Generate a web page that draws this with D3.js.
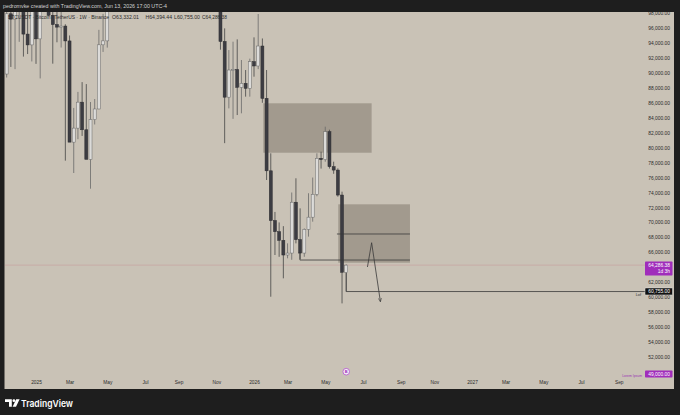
<!DOCTYPE html>
<html><head><meta charset="utf-8">
<script src="https://cdn.jsdelivr.net/npm/d3@7"></script>
<style>
html,body{margin:0;padding:0;background:#1e1e1e;}
svg{display:block;}
</style></head><body>
<svg id="c" width="680" height="415"></svg>
<script>
// ---- weekly BTCUSDT candles (Binance, 1W) ----
const weekStart = [
"2024-11-18","2024-11-25","2024-12-02","2024-12-09","2024-12-16","2024-12-23","2024-12-30",
"2025-01-06","2025-01-13","2025-01-20","2025-01-27","2025-02-03","2025-02-10","2025-02-17","2025-02-24",
"2025-03-03","2025-03-10","2025-03-17","2025-03-24","2025-03-31","2025-04-07","2025-04-14","2025-04-21",
"2025-04-28","2025-05-05",
"2025-11-10","2025-11-17","2025-11-24","2025-12-01","2025-12-08","2025-12-15","2025-12-22","2025-12-29",
"2026-01-05","2026-01-12","2026-01-19","2026-01-26","2026-02-02","2026-02-09","2026-02-16","2026-02-23",
"2026-03-02","2026-03-09","2026-03-16","2026-03-23","2026-03-30","2026-04-06","2026-04-13","2026-04-20",
"2026-04-27","2026-05-04","2026-05-11","2026-05-18","2026-05-25","2026-06-01","2026-06-08"];
const openP = [
89845,97900,97185,101100,104463,95186,93738,
98363,94545,101335,104714,97700,96462,96118,96258,
94270,80734,82610,86082,82389,78430,83760,85170,
93750,94277,
104700,94200,86750,90380,90450,88060,88600,87930,
91500,90920,93590,86590,76900,70250,68760,67600,
65640,65900,72700,67700,65900,69070,70700,73750,
78570,78400,82130,77450,77000,73660,63332.01];
const highP = [
99588,98871,104088,108135,108353,99963,99000,
102724,106422,109588,106457,102500,98826,99475,96500,
95000,85309,87453,88765,88500,86100,86500,95750,
97895,104145,
107500,95950,93050,94170,94480,91720,90380,91900,
94750,97870,94600,90380,79240,71400,70000,69500,
67200,74000,75900,71880,69200,73900,76000,79240,
79460,82800,82400,78120,77230,74110,64394.44];
const lowP = [
89376,90791,90500,94150,92175,92520,91530,
91203,89256,99550,97600,91231,94088,93388,78258,
81500,76606,81134,81565,81320,74508,83100,85144,
92800,93377,
93100,80600,85250,83850,84360,84590,86820,86820,
89490,90500,86000,75670,60060,65640,65400,62520,
65200,65000,67200,65100,65400,68100,70100,73500,
77200,78120,77200,76500,73440,59170,60755.00];
const closeP = [
97900,97185,101100,104463,95186,93738,98363,
94545,101335,104714,97700,96462,96118,96258,94270,
80734,82610,86082,82389,78430,83760,85170,93750,
94277,104100,
94200,86750,90380,90450,88060,88600,87930,91500,
90920,93590,86590,76900,70250,68760,67600,65640,
65900,72700,67700,65900,69070,70700,73750,78570,
78400,82130,77450,77000,73660,63332.01,64286.38];

// ---- axis ticks ----
const priceTicks = d3.range(52000, 98001, 2000);
const hiddenPriceTicks = [64000, 50000]; // covered by the price labels in the original
const timeTickDates = ["2025-01-06","2025-03-03","2025-05-05","2025-07-07","2025-09-01","2025-11-03",
"2026-01-05","2026-03-02","2026-05-04","2026-07-06","2026-09-07","2026-11-02",
"2027-01-04","2027-03-01","2027-05-03","2027-07-05","2027-09-06"];
const timeTickLabels = ["2025","Mar","May","Jul","Sep","Nov","2026","Mar","May","Jul","Sep","Nov","2027","Mar","May","Jul","Sep"];

// ---- drawings (time, price) ----
const zoneStart = ["2026-01-20T12:00Z","2026-05-25T16:00Z"];
const zoneEnd   = ["2026-07-20T10:00Z","2026-09-22T10:00Z"];
const zoneTop   = [85930, 72420];
const zoneBot   = [79320, 64610];
const midLine   = {t0:"2026-05-23T12:00Z", t1:"2026-09-22T10:00Z", p:68450};
const bracket1  = [["2026-03-22T16:00Z",65950],["2026-03-22T16:00Z",64970],["2026-09-22T10:00Z",64970]];
const lowRay    = [["2026-06-08T00:00Z",63230],["2026-06-08T00:00Z",60755],["2027-10-25T00:00Z",60755]];
const arrowPath = [["2026-07-13T10:00Z",64035],["2026-07-20T10:00Z",67285],["2026-08-04T02:00Z",59394]];
const lastPrice = 64286.38, lowPrice = 60755.00, alertPrice = 49000;

// ---- layout ----
const W = 680, H = 415;
const paneL = 5, paneR = 645, paneT = 12, paneB = 377;
const BG = "#c9c2b6";
const FONT = "Liberation Sans, Arial, sans-serif";

const svg = d3.select("#c");
svg.append("rect").attr("width",W).attr("height",H).attr("fill","#1e1e1e");
svg.append("rect").attr("x",4.5).attr("y",paneT).attr("width",674-4.5).attr("height",389-paneT).attr("fill",BG);

const x = d3.scaleTime()
  .domain([new Date(Date.UTC(2025,0,6)), new Date(Date.UTC(2026,0,5))])
  .range([36, 254]);
const y = d3.scaleLinear().domain([52000, 96000]).range([357, 28]);

svg.append("defs").append("clipPath").attr("id","pane")
  .append("rect").attr("x",paneL).attr("y",paneT).attr("width",paneR-paneL).attr("height",paneB-paneT);
svg.select("defs").append("marker").attr("id","arr").attr("viewBox","0 0 10 10")
  .attr("refX",9).attr("refY",5).attr("markerWidth",5).attr("markerHeight",5).attr("orient","auto")
  .append("path").attr("d","M0,1 L9,5 L0,9").attr("fill","none").attr("stroke","#3a3a3a").attr("stroke-width",1.4);

const pane = svg.append("g").attr("clip-path","url(#pane)");

// zones
const zones = zoneStart.map((s,i)=>({s:new Date(s), e:new Date(zoneEnd[i]), t:zoneTop[i], b:zoneBot[i]}));
pane.selectAll("rect.zone").data(zones).join("rect").attr("class","zone")
  .attr("x",d=>x(d.s)).attr("width",d=>x(d.e)-x(d.s))
  .attr("y",d=>y(d.t)).attr("height",d=>y(d.b)-y(d.t))
  .attr("fill","rgba(90,80,70,0.35)");

// last price line
pane.append("line").attr("x1",paneL).attr("x2",paneR).attr("y1",y(lastPrice)).attr("y2",y(lastPrice))
  .attr("stroke","rgba(190,110,125,0.45)").attr("stroke-width",0.6);

// candles
const candles = weekStart.map((w,i)=>({d:new Date(w), o:openP[i], h:highP[i], l:lowP[i], c:closeP[i]}));
const bw = 3;
const cg = pane.append("g");
cg.selectAll("line.wick").data(candles).join("line").attr("class","wick")
  .attr("x1",d=>x(d.d)).attr("x2",d=>x(d.d))
  .attr("y1",d=>y(d.h)).attr("y2",d=>y(d.l))
  .attr("stroke",d=>d.c>=d.o?"#6a6a6a":"#454545").attr("stroke-width",0.8);
cg.selectAll("rect.body").data(candles).join("rect").attr("class","body")
  .attr("x",d=>x(d.d)-bw/2).attr("width",bw)
  .attr("y",d=>y(Math.max(d.o,d.c)))
  .attr("height",d=>Math.max(0.8, Math.abs(y(d.o)-y(d.c))))
  .attr("fill",d=>d.c>=d.o?"#dcdbd9":"#3c3c42")
  .attr("stroke",d=>d.c>=d.o?"#6a6a6a":"#2c2c30").attr("stroke-width",0.5);

// drawing lines
const lineGen = d3.line().x(p=>x(new Date(p[0]))).y(p=>y(p[1]));
pane.append("line").attr("x1",x(new Date(midLine.t0))).attr("x2",x(new Date(midLine.t1)))
  .attr("y1",y(midLine.p)).attr("y2",y(midLine.p)).attr("stroke","#3a3a3a").attr("stroke-width",0.8);
pane.append("path").attr("d",lineGen(bracket1)).attr("fill","none").attr("stroke","#3a3a3a").attr("stroke-width",0.8);
pane.append("path").attr("d",lineGen(lowRay)).attr("fill","none").attr("stroke","#3a3a3a").attr("stroke-width",0.8);
pane.append("path").attr("d",lineGen(arrowPath)).attr("fill","none").attr("stroke","#3a3a3a").attr("stroke-width",0.8)
  .attr("marker-end","url(#arr)");
svg.append("text").attr("x",641).attr("y",y(lowPrice)+4.3).attr("text-anchor","end")
  .attr("font-family",FONT).attr("font-size",3.8).attr("fill","#333").text("Lof");

// legend text
const lg = svg.append("g").attr("font-family",FONT).attr("font-size",5).attr("fill","#2a2a2a");
const legendParts = [["BTCUSDT · Bitcoin / TetherUS · 1W · Binance",8,101],["O63,332.01",112,27],["H64,394.44",145.5,26.5],["L60,755.00",174,26],["C64,286.38",202,25]];
legendParts.forEach(p=>lg.append("text").attr("x",p[1]).attr("y",19).attr("textLength",p[2]).attr("lengthAdjust","spacingAndGlyphs").text(p[0]));

// price axis
const yAxis = svg.append("g").attr("transform","translate(670,0)")
  .call(d3.axisRight(y).tickValues(priceTicks.filter(v=>!hiddenPriceTicks.includes(v)))
    .tickFormat(d3.format(",.2f")).tickSize(0).tickPadding(0));
yAxis.select(".domain").remove();
yAxis.selectAll("text").attr("text-anchor","end").attr("x",0)
  .attr("font-family",FONT).attr("font-size",4.9).attr("fill","#2a2a2a");

// time axis
const xAxis = svg.append("g").attr("transform","translate(0,381)")
  .call(d3.axisBottom(x).tickValues(timeTickDates.map(s=>new Date(s))).tickFormat((d,i)=>timeTickLabels[i]).tickSize(0).tickPadding(0));
xAxis.select(".domain").remove();
xAxis.selectAll("text").attr("font-family",FONT).attr("font-size",4.8).attr("fill","#2a2a2a");

// price labels
function priceLabel(v, fill, lines, stroke){
  const yy = y(v);
  const h = lines.length>1 ? 14 : 7;
  const g = svg.append("g");
  g.append("rect").attr("x",645).attr("y",yy-3.6).attr("width",27.5).attr("height",h).attr("rx",0.8)
    .attr("fill",fill).attr("stroke",stroke||"none").attr("stroke-width",0.5);
  lines.forEach((t,i)=>g.append("text").attr("x",670).attr("y",yy+1.7+i*6).attr("text-anchor","end")
    .attr("font-family",FONT).attr("font-size",4.9).attr("fill","#fff").text(t));
}
priceLabel(lastPrice, "#a02dbb", [d3.format(",.2f")(lastPrice), "1d 3h"]);
priceLabel(lowPrice, "#121212", [d3.format(",.2f")(lowPrice)], "#e0e0e0");
// off-screen alert line label clamped to bottom
(function(){
  const g = svg.append("g");
  g.append("rect").attr("x",645).attr("y",370.5).attr("width",27.5).attr("height",7).attr("rx",0.8).attr("fill","#a02dbb");
  g.append("text").attr("x",670).attr("y",375.8).attr("text-anchor","end").attr("font-family",FONT)
    .attr("font-size",4.9).attr("fill","#fff").text(d3.format(",.2f")(alertPrice));
  g.append("text").attr("x",642).attr("y",377).attr("text-anchor","end").attr("font-family",FONT)
    .attr("font-size",3.4).attr("fill","#9a35b5").text("Lorem Ipsum");
})();

// event icon
const ev = svg.append("g").attr("transform",`translate(${x(new Date("2026-06-08"))},371.7)`);
ev.append("circle").attr("r",3.3).attr("fill","#f3ecf5").attr("stroke","#b454d0").attr("stroke-width",0.8);
ev.append("text").attr("y",1.4).attr("text-anchor","middle").attr("font-family",FONT).attr("font-size",4)
  .attr("font-weight","bold").attr("fill","#a02dbb").text("B");

// header bar
svg.append("rect").attr("x",0).attr("y",0).attr("width",W).attr("height",paneT).attr("fill","#1e1e1e");
svg.append("text").attr("x",3).attr("y",8).attr("font-family",FONT).attr("font-size",5.3).attr("fill","#d2d2d2")
  .attr("textLength",164).attr("lengthAdjust","spacingAndGlyphs")
  .text("pedromvke created with TradingView.com, Jun 13, 2026 17:00 UTC-4");

// TradingView logo
const lgo = svg.append("g").attr("fill","#ffffff");
lgo.append("path").attr("d","M5,399.3 H11.8 V406.8 H9 V402 H5 Z");
lgo.append("circle").attr("cx",13.9).attr("cy",400.7).attr("r",1.4);
lgo.append("path").attr("d","M16.2,399.3 H19.6 L16,406.8 H12.6 Z");
svg.append("text").attr("x",21).attr("y",406.6).attr("font-family","Inter, Lato, sans-serif").attr("font-size",9.6)
  .attr("font-weight",600).attr("fill","#fff").attr("textLength",52).attr("lengthAdjust","spacingAndGlyphs").text("TradingView");
</script>
</body></html>
